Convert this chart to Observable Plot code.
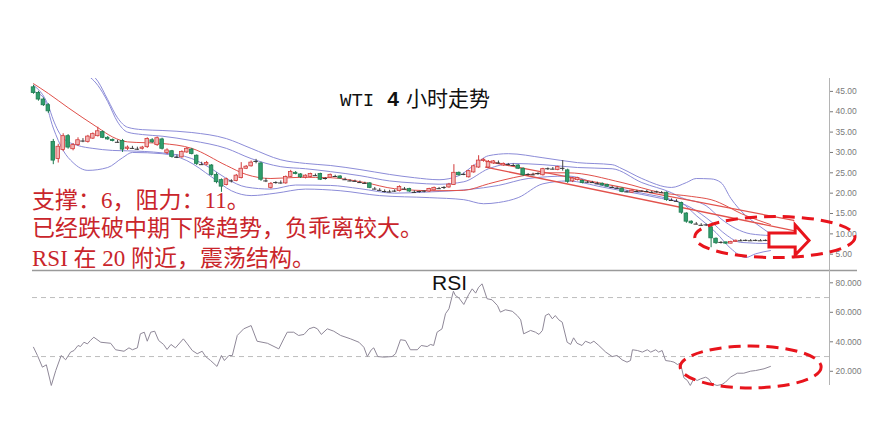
<!DOCTYPE html>
<html>
<head>
<meta charset="utf-8">
<script src="https://cdn.jsdelivr.net/npm/d3@7"></script>
<script src="https://cdn.jsdelivr.net/npm/@observablehq/plot@0.6"></script>
<style>
  html,body{margin:0;padding:0;background:#fff;}
  #chart{position:relative;width:873px;height:435px;overflow:hidden;background:#fff;}
  #chart svg{position:absolute;left:0;}
  .lbl{position:absolute;white-space:nowrap;}
  #title{left:340px;top:86px;font-size:21px;line-height:22px;color:#111;font-family:"Noto Sans CJK SC",sans-serif;}
  #title .t1{font-family:"Liberation Mono",monospace;font-size:19px;}
  #title .t2{font-family:"Liberation Sans",Arial,sans-serif;font-weight:bold;margin-left:13px;}
  #title .t3{margin-left:7px;}
  .note{left:32px;font-size:23px;line-height:23px;color:#c9252b;font-family:"Liberation Serif","Noto Sans CJK SC",serif;}
  #rsilbl{left:432px;top:272px;font-size:21px;line-height:21px;color:#111;font-family:"Liberation Sans",Arial,sans-serif;}
</style>
</head>
<body>
<div id="chart"></div>
<script>
// ---------------- text ----------------
const titleParts = ["WTI", "4", "小时走势"];
const noteLines = ["支撑：6，阻力：11。", "已经跌破中期下降趋势，负乖离较大。", "RSI 在 20 附近，震荡结构。"];
const rsiLabel = "RSI";

// ---------------- candles (4h bars, oldest -> newest) ----------------
const opens = [46.0,44.6,43.0,41.6,32.6,28.4,30.6,34.0,30.8,31.8, 33.0,32.6,33.4,34.0,35.0,33.6,33.1,32.8,32.8,30.9,
 31.2,31.0,30.9,31.3,33.0,31.8,33.2,29.9,30.3,29.0, 28.8,30.0,30.7,29.2,27.2,27.0,26.8,24.5,23.2,22.0,
 22.8,23.0,23.7,26.0,26.6,27.6,27.3,23.2,21.3,22.5, 22.6,22.4,24.0,25.0,24.6,23.8,24.0,24.5,24.7,23.4,
 23.8,24.2,24.1,23.5,23.1,23.0,22.8,22.5,22.4,21.2, 20.9,20.6,20.4,20.3,20.5,21.2,21.0,20.4,20.3,20.3,
 20.4,20.7,21.2,21.1,21.4,22.0,25.0,24.4,23.9,25.1, 26.3,27.9,26.3,27.3,27.6,26.8,27.1,27.0,26.8,26.0,
 24.5,24.6,24.6,24.4,25.8,26.0,25.7,26.3,25.6,22.9, 23.2,23.0,22.6,22.7,22.5,22.3,22.0,21.5,21.3,21.1,
 20.4,20.1,20.5,20.4,20.5,20.3,20.2,20.2,20.1,18.4, 18.2,17.6,15.0,13.0,12.5,12.3,12.0,11.6,8.8,7.8,
 7.9,7.6,8.0,8.3,8.3,8.4,8.3,8.4,8.3,8.4];
const highs = [46.5,45.0,43.4,42.0,33.2,32.0,34.6,34.4,32.2,33.6, 33.4,34.2,34.8,36.2,35.3,33.9,33.3,33.0,33.2,31.6,
 31.5,31.3,31.5,33.6,33.4,33.8,33.5,30.9,30.5,29.4, 30.4,31.2,31.0,29.4,27.6,27.8,27.0,25.0,23.5,23.7,
 23.3,24.6,27.5,26.8,27.9,28.3,27.6,23.6,22.6,22.8, 23.0,24.2,25.6,25.3,24.8,24.5,24.9,24.7,24.9,23.8,
 24.7,24.4,24.3,23.7,23.3,23.2,23.0,22.7,22.6,21.4, 21.1,20.8,20.7,20.8,21.8,21.4,21.2,20.6,20.5,20.6,
 21.2,21.5,21.4,21.6,22.4,27.0,25.2,24.9,25.6,26.9, 29.2,28.5,28.0,28.0,27.9,27.4,27.3,27.2,27.0,26.2,
 24.8,24.9,25.0,26.1,26.2,26.3,26.6,28.0,25.9,23.8, 23.9,23.2,22.9,22.9,22.7,22.5,22.2,21.7,21.5,21.3,
 20.6,20.8,20.7,20.6,20.7,20.5,20.5,20.4,20.3,18.6, 18.4,17.8,15.2,13.2,12.8,12.5,12.4,11.8,9.0,8.1,
 8.0,8.2,8.5,8.6,8.5,8.6,8.5,8.6,8.5,8.6];
const lows = [44.3,42.6,41.3,39.6,27.0,27.4,30.2,30.8,30.4,31.5, 32.4,32.3,33.2,33.8,33.4,33.0,32.6,32.3,30.0,30.5,
 30.8,30.5,30.6,31.0,32.2,31.5,30.6,29.5,28.6,28.5, 28.6,29.8,29.4,26.8,26.8,26.7,24.2,22.3,20.2,21.8,
 22.5,22.8,23.5,25.8,26.4,27.2,22.9,22.6,21.0,22.2, 22.2,22.2,23.9,24.5,23.6,23.5,23.8,24.1,23.1,23.2,
 23.6,23.9,23.5,23.1,22.8,22.7,22.4,22.2,21.1,20.8, 20.5,20.1,20.1,20.2,20.3,20.8,20.2,20.0,20.0,20.1,
 20.2,20.5,20.9,20.9,21.2,21.9,24.2,24.3,23.7,24.9, 26.1,27.6,26.1,27.1,27.2,26.6,26.8,26.7,25.8,24.1,
 24.2,24.3,24.4,24.2,25.6,25.7,25.5,25.4,22.4,22.6, 23.0,22.3,22.4,22.4,22.1,21.7,21.4,21.2,21.0,20.1,
 20.1,19.9,20.2,20.2,20.2,20.0,20.0,20.0,18.0,18.0, 17.8,14.8,12.6,12.3,12.2,11.9,11.8,6.6,7.4,7.5,
 7.4,7.5,7.9,8.1,8.1,8.2,8.1,8.2,8.1,8.2];
const closes = [44.6,43.0,41.6,40.1,28.0,31.4,34.0,31.2,31.8,33.0, 32.8,33.9,34.5,35.2,33.6,33.2,32.8,32.5,30.7,31.2,
 31.0,30.8,31.2,33.3,32.5,33.5,30.9,30.5,28.9,28.8, 30.1,30.9,29.6,27.2,27.0,27.4,24.5,22.7,21.6,23.4,
 23.0,24.3,26.0,26.5,27.5,27.8,23.3,23.0,22.3,22.6, 22.5,24.0,25.2,24.7,23.9,24.3,24.7,24.3,23.3,23.6,
 24.5,24.1,23.6,23.3,23.0,22.9,22.6,22.4,21.3,21.0, 20.7,20.4,20.3,20.5,21.5,21.0,20.4,20.2,20.4,20.5,
 21.0,21.3,21.1,21.4,22.1,25.0,24.4,24.6,25.4,26.6, 28.0,28.2,27.6,27.8,27.4,27.2,27.0,26.8,26.0,24.4,
 24.6,24.5,24.8,25.9,26.0,25.9,26.4,26.1,22.8,23.6, 23.7,22.5,22.7,22.6,22.3,21.9,21.6,21.4,21.2,20.3,
 20.3,20.6,20.4,20.5,20.4,20.2,20.3,20.1,18.3,18.2, 18.0,15.2,13.0,12.6,12.4,12.1,12.2,8.9,7.7,7.9,
 7.6,8.0,8.3,8.3,8.4,8.3,8.4,8.3,8.4,8.3];

// ---------------- Bollinger bands (bar position, value) ----------------
const uoPos = [0,8,11,13,15,17,19,22,26,32,39,44,50,55,60,66,72,77,82,86,89,92,96,103,110,117,119,123,129,132,134,137,139,141,144,146,149];
const uoVal = [57,53,50,47.5,43,38.5,36.2,35.6,35.4,34.9,33.4,31,28.2,27.3,26.8,25.8,24.6,23.8,23.3,24.3,26.8,29.2,29.7,28.7,27.5,27.0,26.0,23.6,21.4,22.6,23.6,23.5,22.6,18.7,14.5,12.6,10.0];
const uiPos = [0,10,13,15,17,19,22,26,32,39,44,50,55,60,66,72,77,82,87,92,97,103,110,117,123,129,131,136,139,142,145,149];
const uiVal = [52,49.5,46.5,42.5,37.5,35.0,34.4,34.0,32.9,31.0,28.5,26.5,26.0,25.3,24.3,23.0,22.5,22.2,22.8,26.0,27.3,27.0,26.3,26.0,22.6,20.1,18.9,16.9,13.7,11.3,10.0,9.6];
const liPos = [0,3,4,6,9,12,16,19,26,32,36,39,43,48,53,60,66,73,80,88,94,100,108,115,123,129,133,137,140,143,149];
const liVal = [46.5,41.5,38,33.5,31.7,31.0,30.5,30.4,29.9,28.5,26.0,23.6,21.5,21.0,22.0,21.9,21.1,20.0,20.3,20.9,21.9,23.6,24.2,21.9,20.0,18.4,16.4,13.0,9.8,7.9,7.6];
const loPos = [0,2,4,6,8,11,15,18,20,26,31,36,40,44,49,55,62,70,80,87,91,94,98,103,108,115,119,127,131,134,138,141,144,146,149];
const loVal = [45,43.5,36,30.5,27.5,25.6,26.3,28.7,30.0,29.7,28.0,24.0,20.6,19.4,20.0,21.0,20.6,19.4,18.9,18.4,17.4,17.7,18.9,22.3,23.0,21.5,20.6,18.7,17.6,14.5,10.3,6.4,4.2,5.1,5.9];

// ---------------- moving average & trend channel ----------------
const maPos = [0,3,7,13,16,19,26,32,39,43,48,54,60,67,73,81,87,92,97,104,108,119,127,133,137,144,149];
const maVal = [46.9,44.5,41,36.1,33.8,32.6,32.2,31.0,26.8,24.6,23.6,23.9,23.8,22.6,21.1,20.6,20.7,22.3,23.8,25.0,25.0,22.6,20.1,19.2,18.4,14.5,12.3];
const tlPos = [91.4, 153.7];
const tl1Val = [27.9, 13.3];
const tl2Val = [26.4, 10.8];

// ---------------- RSI ----------------
const rsiPos = [0,0.8,1.8,2.6,3.6,4.5,5.6,6.5,7.5,8.2,9.0,9.5,10.2,10.9,11.5,12.2,13.6,15.6,16.6,18.3,19.3,20.0,21.0,21.6,22.4,23.0,23.7,24.5,25.3,26.3,
 27.0,27.8,28.7,30.3,31.1,32.1,33.1,34.1,34.8,35.8,37.1,38.0,38.6,39.5,40.2,41.2,42.5,44.0,45.2,47.3,49.6,50.6,51.3,52.6,53.6,54.7,55.7,56.7,57.4,58.2,
 59.4,60.7,62.1,64.1,65.8,66.8,67.5,68.3,68.8,69.6,70.8,72.5,73.2,74.2,75.2,76.2,77.6,78.4,79.6,80.3,80.9,81.6,82.6,83.3,84.0,84.9,85.3,86.0,87.0,88.0,
 88.7,89.4,90.0,90.7,91.7,92.7,93.8,94.4,95.4,96.8,97.8,98.5,99.1,100.5,101.5,102.2,102.9,103.5,104.2,104.9,105.5,106.2,106.9,107.9,108.6,109.2,109.9,110.9,111.6,112.6,
 113.3,114.3,115.7,117.0,118.0,119.0,120.0,120.7,121.1,122.1,123.1,124.1,124.8,125.8,126.4,127.1,127.8,128.8,129.5,130.2,130.8,131.5,132.2,132.8,133.5,134.2,134.9,135.9,136.5,137.2,
 138.2,139.2,139.9,140.9,142.3,143.6,145.0,146.0,146.7,147.7,149.0];
const rsiVal = [36.3,30.7,22.8,24.4,10.4,20.5,30.7,27.8,33,34.1,37.5,36.8,39.7,38.6,40.9,43.1,39.7,39,34.6,33.6,35.9,34.6,35.9,45.4,46.5,40.4,46.5,47.2,40.9,38.2,
 34.8,38.2,35.9,42,38.6,34.1,31.9,33.6,30,27.3,23.3,30.7,27.3,30.7,30.7,44.3,48.8,51,40.4,39,35.2,42,46.5,46.5,44.3,45,48.8,49.9,48.8,45,
 48.8,47.2,44.3,42,39.7,36.3,30,34.6,35.9,30,29.6,30,31.9,41.4,40.9,34.6,34.6,37.5,36.8,38.2,37.5,46.5,48.8,59,62.4,74.3,71.4,69.8,65.3,72.1,
 75.9,73,77,79.3,69.2,68.5,64.6,60.1,61.7,60.7,57.8,54.9,45.4,47.7,46.5,45,47.7,57.8,59,55.6,57.8,54.9,53.3,39.7,38.2,42.7,39,37.5,40.4,39,
 40.4,37.5,33,30,30.7,27.8,26.2,27.3,34.6,34.1,33,34.6,33,34.6,33,34.1,27.3,26.8,26.2,24.6,25.5,15.6,13.8,10.4,14.9,13.8,14.9,16,14.9,11.5,
 10.4,11.1,12.6,16,18.7,18.7,20.1,20.5,21,21.7,23.3];
const rsiLevels = [70, 30];

// ---------------- axes ticks ----------------
const priceTicks = [5, 10, 15, 20, 25, 30, 35, 40, 45];
const rsiTicks = [20, 40, 60, 80];

// ---------------- annotations (data units) ----------------
const priceEllipse = {cx: 150.0, cy: 9.1, rx: 16.2, ry: 5.04};
const rsiEllipse = {cx: 145.1, cy: 22.6, rx: 14.25, ry: 14.2};
const arrowX = [148.8, 154.1, 154.1, 156.9, 154.1, 154.1, 148.8];
const arrowY = [10.09, 10.09, 12.05, 8.24, 4.68, 6.65, 6.65];

// ---------------- styling constants ----------------
const BLUE = "#8c8cd8", MA_RED = "#e0504a", TL_RED = "#e2524c";
const UP_FILL = "#f2b3b3", UP_STROKE = "#d23a3a";
const DN_FILL = "#2f9e6c", DN_STROKE = "#1f7b50";
const ANN_RED = "#e8141c";
const X_DOMAIN = [0, 160.94];

const candles = opens.map((o, i) => {
  const diff = closes[i] - o;
  return {i, o, h: highs[i], l: lows[i], c: closes[i], dir: diff > 0.3 ? "up" : diff < -0.3 ? "down" : "flat"};
});
const upC = candles.filter(d => d.dir === "up");
const dnC = candles.filter(d => d.dir === "down");
const flC = candles.filter(d => d.dir === "flat");

function ellipseMark(e) {
  return (index, scales) => {
    const cx = scales.x(e.cx), cy = scales.y(e.cy);
    const rx = Math.abs(scales.x(e.cx + e.rx) - cx), ry = Math.abs(scales.y(e.cy + e.ry) - cy);
    return d3.create("svg:ellipse").attr("cx", cx).attr("cy", cy).attr("rx", rx).attr("ry", ry)
      .attr("fill", "none").attr("stroke", ANN_RED).attr("stroke-width", 3)
      .attr("stroke-dasharray", "12,7").node();
  };
}
function arrowMark() {
  return (index, scales) => {
    const pts = arrowX.map((x, k) => [scales.x(x), scales.y(arrowY[k])]);
    return d3.create("svg:polygon").attr("points", pts.map(p => p.join(",")).join(" "))
      .attr("fill", "#fff").attr("stroke", ANN_RED).attr("stroke-width", 3)
      .attr("stroke-linejoin", "miter").node();
  };
}

const baseStyle = {background: "transparent", overflow: "visible", color: "#7a7a7a",
  fontSize: "8.5px", fontFamily: "'Liberation Sans', Arial, sans-serif"};

const topPlot = Plot.plot({
  width: 873, height: 272,
  marginTop: 78, marginBottom: 2, marginLeft: 33, marginRight: 44,
  style: baseStyle,
  x: {domain: X_DOMAIN, axis: null},
  y: {domain: [1.0, 48.17], axis: "right", ticks: priceTicks, tickFormat: d3.format(".2f"),
      tickSize: 3, tickPadding: 3, label: null},
  marks: [
    Plot.ruleX([X_DOMAIN[1]], {stroke: "#b4b4b4"}),
    Plot.ruleY([1.0], {x1: -0.2, x2: 166.6, stroke: "#9a9a9a", strokeWidth: 1.5}),
    Plot.line(uoPos, {x: uoPos, y: uoVal, curve: "monotone-x", stroke: BLUE, strokeWidth: 1, clip: true}),
    Plot.line(uiPos, {x: uiPos, y: uiVal, curve: "monotone-x", stroke: BLUE, strokeWidth: 1, clip: true}),
    Plot.line(liPos, {x: liPos, y: liVal, curve: "monotone-x", stroke: BLUE, strokeWidth: 1, clip: true}),
    Plot.line(loPos, {x: loPos, y: loVal, curve: "monotone-x", stroke: BLUE, strokeWidth: 1, clip: true}),
    Plot.line(maPos, {x: maPos, y: maVal, curve: "monotone-x", stroke: MA_RED, strokeWidth: 1, clip: true}),
    Plot.line(tlPos, {x: tlPos, y: tl1Val, stroke: TL_RED, strokeWidth: 1.3}),
    Plot.line(tlPos, {x: tlPos, y: tl2Val, stroke: TL_RED, strokeWidth: 1.3}),
    Plot.ruleX(upC, {x: "i", y1: "l", y2: "h", stroke: UP_STROKE, strokeWidth: 1}),
    Plot.ruleX(dnC, {x: "i", y1: "l", y2: "h", stroke: DN_STROKE, strokeWidth: 1}),
    Plot.ruleX(flC, {x: "i", y1: "l", y2: "h", stroke: "#444", strokeWidth: 1}),
    Plot.rect(upC, {x1: d => d.i - 0.36, x2: d => d.i + 0.36, y1: "o", y2: "c", fill: UP_FILL, stroke: UP_STROKE, strokeWidth: 0.8}),
    Plot.rect(dnC, {x1: d => d.i - 0.36, x2: d => d.i + 0.36, y1: "o", y2: "c", fill: DN_FILL, stroke: DN_STROKE, strokeWidth: 0.8}),
    Plot.ruleY(flC, {x1: d => d.i - 0.45, x2: d => d.i + 0.45, y: "c", stroke: "#333", strokeWidth: 1}),
    ellipseMark(priceEllipse),
    arrowMark()
  ]
});

const rsiPlot = Plot.plot({
  width: 873, height: 137,
  marginTop: 0, marginBottom: 22, marginLeft: 33, marginRight: 44,
  style: baseStyle,
  x: {domain: X_DOMAIN, axis: null},
  y: {domain: [10.37, 88.34], axis: "right", ticks: rsiTicks, tickFormat: d3.format(".3f"),
      tickSize: 3, tickPadding: 3, label: null},
  marks: [
    Plot.ruleX([X_DOMAIN[1]], {stroke: "#b4b4b4"}),
    Plot.ruleY(rsiLevels, {x1: -0.2, x2: X_DOMAIN[1], stroke: "#bdbdbd", strokeDasharray: "5,4"}),
    Plot.line(rsiPos, {x: rsiPos, y: rsiVal, stroke: "#8f8898", strokeWidth: 1}),
    ellipseMark(rsiEllipse)
  ]
});

const chart = document.getElementById("chart");
topPlot.style.top = "0px";
rsiPlot.style.top = "270px";
chart.appendChild(topPlot);
chart.appendChild(rsiPlot);

// title
const title = document.createElement("div");
title.className = "lbl"; title.id = "title";
title.innerHTML = `<span class="t1"></span><span class="t2"></span><span class="t3"></span>`;
title.querySelector(".t1").textContent = titleParts[0];
title.querySelector(".t2").textContent = titleParts[1];
title.querySelector(".t3").textContent = titleParts[2];
chart.appendChild(title);

// notes
const noteTops = [189, 217, 247];
noteLines.forEach((t, k) => {
  const d = document.createElement("div");
  d.className = "lbl note";
  d.style.top = noteTops[k] + "px";
  d.textContent = t;
  chart.appendChild(d);
});

const rl = document.createElement("div");
rl.className = "lbl"; rl.id = "rsilbl";
rl.textContent = rsiLabel;
chart.appendChild(rl);
</script>
</body>
</html>
